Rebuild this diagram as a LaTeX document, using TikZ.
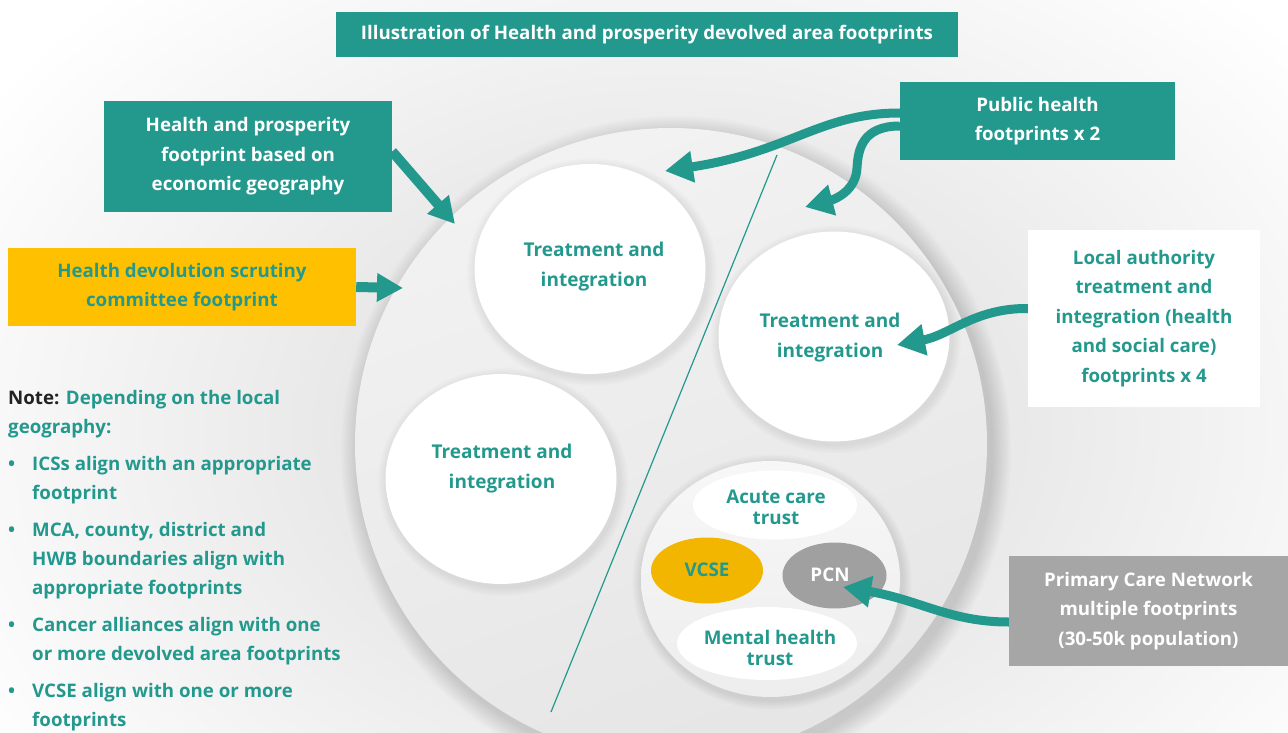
\documentclass[tikz,border=0pt]{standalone}
\usepackage{fontspec}
\setmainfont{Open Sans}
\usetikzlibrary{arrows.meta,shapes.geometric}
\definecolor{tealc}{HTML}{23998E}
\definecolor{ambc}{HTML}{FFC000}
\definecolor{vcsec}{HTML}{F2B600}
\definecolor{pcnc}{HTML}{A0A0A0}
\definecolor{pcnbox}{HTML}{A6A6A6}
\definecolor{notec}{HTML}{222222}
\pgfdeclareradialshading{bgshade}{\pgfpoint{0bp}{0bp}}{color(0bp)=(black!13); color(10bp)=(black!9); color(25bp)=(white); color(50bp)=(white)}
\tikzset{
  box/.style={inner sep=0pt, align=center, font=\bfseries\fontsize{18.7}{29.5}\selectfont},
  tealbox/.style={box, fill=tealc, text=white},
  bigell/.style={ellipse, inner sep=0pt, minimum width=231, minimum height=210, fill=white},
  smallell/.style={ellipse, inner sep=0pt},
  lbl/.style={align=center, text=tealc, font=\bfseries\fontsize{19}{30}\selectfont},
  slbl/.style={align=center, text=tealc, font=\bfseries\fontsize{18.8}{21}\selectfont},
  ribbon/.style={draw=tealc, line width=9pt, -{Triangle[length=28pt,width=30pt]}},
  straightarrow/.style={draw=tealc, line width=10pt, -{Triangle[length=26pt,width=27pt]}},
}
\begin{document}
\begin{tikzpicture}[x=1pt,y=-1pt]
\useasboundingbox (0,0) rectangle (1288,733);
% background
\fill[white] (0,0) rectangle (1288,733);
\begin{scope}
\clip (0,0) rectangle (1288,733);
\shade[shading=bgshade] (671,430) ellipse [x radius=820, y radius=600];
% shadow of the big circle
\foreach \k in {1,...,12}
  \fill[black, opacity=0.012] (676,451) circle [radius=316+\k*1.6];
\end{scope}
% big circle
\node[circle, inner sep=0pt, minimum size=632, top color=black!5, bottom color=black!10, shading angle=20] (big) at (671,444) {};
% divider
\coordinate (d1) at (777,155);
\coordinate (d2) at (551,712);
\draw[tealc, line width=1.2pt] (d1) -- (d2);
% soft shadows of ellipses
\foreach \cx/\cy in {590/269, 834/336.5, 501/479}
  \foreach \k in {1,...,6}
    \fill[black, opacity=0.01] (\cx+2,\cy+3) ellipse [x radius=116+\k*1.5, y radius=105+\k*1.5];
\foreach \k in {1,...,6}
  \fill[black, opacity=0.014] (772,582) ellipse [x radius=130+\k*1.6, y radius=118+\k*1.6];
% treatment ellipses
\node[bigell] (e1) at (590,269) {};
\node[bigell] (e2) at (834,336.5) {};
\node[bigell] (e3) at (501,479) {};
\node[lbl] (t1) at (594,267) {Treatment and\\integration};
\node[lbl] (t2) at (830,338) {Treatment and\\integration};
\node[lbl] (t3) at (502,469) {Treatment and\\integration};
% provider circle
\node[ellipse, inner sep=0pt, minimum width=259, minimum height=236, top color=black!3, bottom color=black!7] (prov) at (770.5,579) {};
\node[smallell, fill=white, minimum width=164, minimum height=69] (acute) at (775,505) {};
\node[slbl] (acutel) at (776,507) {Acute care\\trust};
\node[smallell, fill=vcsec, minimum width=112, minimum height=66] (vcse) at (707,570.5) {};
\node[slbl] (vcsel) at (707,570) {VCSE};
\node[smallell, fill=pcnc, minimum width=104, minimum height=66] (pcn) at (834.5,575.5) {};
\node[slbl, text=white] (pcnl) at (830,575) {PCN};
\node[smallell, fill=white, minimum width=180, minimum height=73] (mh) at (767,643.5) {};
\node[slbl] (mhl) at (770,648) {Mental health\\trust};
% boxes
\node[tealbox, minimum width=622, minimum height=45] (title) at (647,34.5) {Illustration of Health and prosperity devolved area footprints};
\node[tealbox, minimum width=288, minimum height=111] (hp) at (248,156.5) {Health and prosperity\\footprint based on\\economic geography};
\node[box, fill=ambc, text=tealc, minimum width=348, minimum height=78] (yb) at (182,287) {Health devolution scrutiny\\committee footprint};
\node[tealbox, minimum width=275, minimum height=78] (ph) at (1037.5,121) {Public health\\footprints x 2};
\node[box, fill=white, text=tealc, minimum width=232, minimum height=177] (la) at (1144,318.5) {Local authority\\treatment and\\integration (health\\and social care)\\footprints x 4};
\node[box, fill=pcnbox, text=white, minimum width=279, minimum height=110] (pcnb) at (1148.5,611) {Primary Care Network\\multiple footprints\\(30-50k population)};
% note
\node[anchor=north west, inner sep=0pt, align=left, text=tealc, font=\bfseries\fontsize{18.7}{29}\selectfont] (note) at (8,390) {%
{\color{notec}Note:} Depending on the local\\
geography:\\[8pt]
\makebox[24pt][l]{•}ICSs align with an appropriate\\
\hspace*{24pt}footprint\\[8pt]
\makebox[24pt][l]{•}MCA, county, district and\\
\hspace*{24pt}HWB boundaries align with\\
\hspace*{24pt}appropriate footprints\\[8pt]
\makebox[24pt][l]{•}Cancer alliances align with one\\
\hspace*{24pt}or more devolved area footprints\\[8pt]
\makebox[24pt][l]{•}VCSE align with one or more\\
\hspace*{24pt}footprints};
% arrows
\coordinate (tipA) at (665,171);
\coordinate (tipB) at (805,207);
\coordinate (tipC) at (897,345);
\coordinate (tipD) at (843,587);
\coordinate (tipE) at (455,224);
\coordinate (tipF) at (403,288);
\draw[ribbon] ([yshift=8pt]ph.west) .. controls (820,113) and (790,152) .. (tipA);
\draw[ribbon] ([yshift=-5pt]ph.west) .. controls (862,126) and (858,150) .. (857,168) .. controls (856,190) and (836,199) .. (tipB);
\draw[ribbon] ([yshift=10pt]la.west) .. controls (975,308) and (950,335) .. (tipC);
\draw[ribbon] ([yshift=-11pt]pcnb.west) .. controls (950,622) and (920,600) .. (tipD);
\draw[straightarrow] ([yshift=5pt]hp.east) -- (tipE);
\draw[straightarrow] (yb.east) -- (tipF);
\end{tikzpicture}
\end{document}
